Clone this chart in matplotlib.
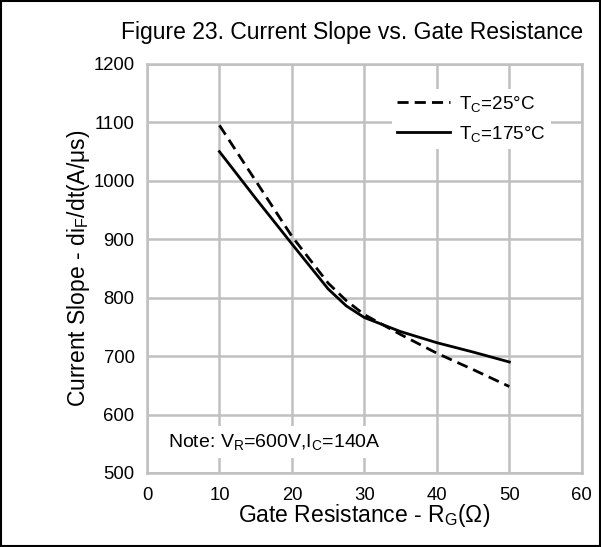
import numpy as np
import matplotlib
matplotlib.use("Agg")
import matplotlib.pyplot as plt
from matplotlib.patches import Rectangle

plt.rcParams['font.family'] = ['Liberation Sans', 'DejaVu Sans']
plt.rcParams['mathtext.default'] = 'regular'

# data
rg = [10, 15, 20, 25, 27.5, 30, 35, 40, 45, 50]
slope_25c = [1095, 1000, 905, 825, 795, 771, 737, 705, 677, 648]
slope_175c = [1050, 970, 892, 815, 786, 766, 742, 723, 707, 690]
xticks = [0, 10, 20, 30, 40, 50, 60]
yticks = [500, 600, 700, 800, 900, 1000, 1100, 1200]

fig = plt.figure(figsize=(6.01, 5.47), dpi=100)
ax = fig.add_axes([0.2446, 0.1353, 0.7234, 0.7477])

grid_c = '#c0c0c0'
ax.plot(rg, slope_25c, color='black', lw=2, ls=(0, (4, 2.2)), label='T$_C$=25°C')
ax.plot(rg, slope_175c, color='black', lw=2, label='T$_C$=175°C')

ax.set_xlim(0, 60)
ax.set_ylim(500, 1200)
ax.set_xticks(xticks)
ax.set_yticks(yticks)
ax.grid(True, color=grid_c, lw=1.8)
ax.set_axisbelow(True)
for s in ax.spines.values():
    s.set_color(grid_c)
    s.set_linewidth(1.8)
ax.tick_params(length=0, labelsize=13.3)
ax.tick_params(axis='x', pad=10)
ax.tick_params(axis='y', pad=9)

ax.set_xlabel('Gate Resistance - R$_G$(Ω)', fontsize=16.5, labelpad=-1)
ax.set_ylabel('Current Slope - di$_F$/dt(A/μs)', fontsize=16.5, labelpad=1)
fig.text(0.585, 0.94, 'Figure 23. Current Slope vs. Gate Resistance', fontsize=16.5,
         ha='center', va='center')

leg = ax.legend(loc='center', bbox_to_anchor=(0.746, 0.866), frameon=True,
                fontsize=13.6, handlelength=2.8, handletextpad=0.5, labelspacing=0.55,
                borderpad=0.25, borderaxespad=0, fancybox=False)
leg.get_frame().set_edgecolor('none')
leg.get_frame().set_facecolor('white')
leg.get_frame().set_alpha(1)

ax.text(2.9, 553, 'Note: V$_R$=600V,I$_C$=140A', fontsize=14, ha='left', va='center',
        bbox=dict(facecolor='white', edgecolor='none', pad=4))

fig.add_artist(Rectangle((0.002, 0.002), 0.996, 0.996, transform=fig.transFigure,
                         fill=False, edgecolor='black', lw=1.5))

fig.savefig('out.png', dpi=100)
